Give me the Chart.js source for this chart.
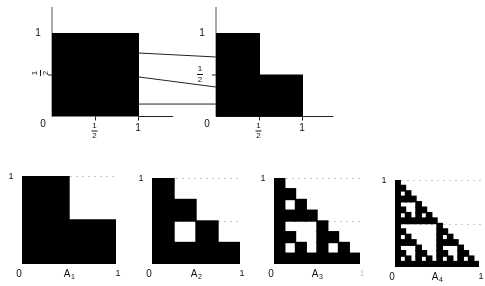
<!DOCTYPE html>
<html>
<head>
<meta charset="utf-8">
<script src="https://cdn.jsdelivr.net/npm/chart.js@4.4.1/dist/chart.umd.min.js"></script>
<style>
    html, body { margin: 0; padding: 0; background: #fff; }
    #wrap { position: relative; width: 485px; height: 286px; }
    #wrap canvas { position: absolute; left: 0; top: 0; }
</style>
</head>
<body>
<div id="wrap">
    <canvas id="topChart" width="485" height="286"></canvas>
    <canvas id="setA1" width="485" height="286"></canvas>
    <canvas id="setA2" width="485" height="286"></canvas>
    <canvas id="setA3" width="485" height="286"></canvas>
    <canvas id="setA4" width="485" height="286"></canvas>
</div>
<script>
// Top row: unit square (left) and its image A1 (right)
const squareX = [0, 1];
const squareY = [1, 1];
const lShapeX = [0, 0.5, 0.5, 1];
const lShapeY = [1, 1, 0.5, 0.5];
// connecting segments: height on the square -> height on the L
const linkFromY = [0.765, 0.476, 0.15];
const linkToY = [0.717, 0.355, 0.15];
const stubEndX = 1.39;      // short x-axis piece right of the square
const axisTopY = 1.32;      // how far the y axes run up
const axisRightX = 1.35;    // how far the right x axis runs

// Bottom row: the sets A1..A4, rows listed top to bottom, 1 = black cell
const setNames = ['A', 'A', 'A', 'A'];
const setSubs = ['1', '2', '3', '4'];
const rowsA1 = ['10', '11'];
const rowsA2 = ['1000', '1100', '1010', '1111'];
const rowsA3 = [
    '10000000', '11000000', '10100000', '11110000',
    '10001000', '11001100', '10101010', '11111111'
];
const rowsA4 = [
    '1000000000000000', '1100000000000000', '1010000000000000', '1111000000000000',
    '1000100000000000', '1100110000000000', '1010101000000000', '1111111100000000',
    '1000000010000000', '1100000011000000', '1010000010100000', '1111000011110000',
    '1000100010001000', '1100110011001100', '1010101010101010', '1111111111111111'
];

// layout (pixels)
const W = 485, H = 286;
const TOP = { x0: 52, y0: 116.5, ux: 87, uy: 83 };
const RIGHT_OFF = (216 - 52) / 87;
const BOXES = [[22, 176, 116, 264], [152, 178, 240, 264], [274, 178, 360, 264], [395, 180, 479, 267]];
const FONT = '"Liberation Sans", Arial, sans-serif';
const INK = '#111';

document.addEventListener('DOMContentLoaded', function () {
    Chart.defaults.animation = false;

    function pts(xs, ys, dx) {
        return xs.map((x, i) => ({ x: x + (dx || 0), y: ys[i] }));
    }
    function lineSet(data, extra) {
        return Object.assign({ data: data, showLine: true, pointRadius: 0, borderColor: '#222',
            borderWidth: 1, fill: false }, extra || {});
    }

    function text(ctx, s, x, y, size, color) {
        ctx.font = (size || 10) + 'px ' + FONT;
        ctx.fillStyle = color || INK;
        ctx.textAlign = 'center';
        ctx.textBaseline = 'middle';
        ctx.fillText(s, x, y);
    }
    function frac(ctx, x, y, rotate) {
        ctx.save();
        ctx.translate(x, y);
        if (rotate) ctx.rotate(-Math.PI / 2);
        text(ctx, '1', 0, -5, 8);
        text(ctx, '2', 0, 5.5, 8);
        ctx.strokeStyle = INK;
        ctx.lineWidth = 1;
        ctx.beginPath();
        ctx.moveTo(-3, 0.5); ctx.lineTo(3, 0.5);
        ctx.stroke();
        ctx.restore();
    }
    function tick(ctx, x1, y1, x2, y2) {
        ctx.strokeStyle = '#222';
        ctx.lineWidth = 1;
        ctx.beginPath();
        ctx.moveTo(x1, y1); ctx.lineTo(x2, y2);
        ctx.stroke();
    }

    // top chart
    const topLabels = {
        id: 'topLabels',
        afterDatasetsDraw(chart) {
            const ctx = chart.ctx, sx = chart.scales.x, sy = chart.scales.y;
            const px = v => sx.getPixelForValue(v), py = v => sy.getPixelForValue(v);
            [0, RIGHT_OFF].forEach((off, k) => {
                tick(ctx, px(off + 0.5), py(0), px(off + 0.5), py(0) + 4);
                tick(ctx, px(off + 1) - 0.5, py(0), px(off + 1) - 0.5, py(0) + 4);
                tick(ctx, px(off) - 4, py(0.5), px(off), py(0.5));
                text(ctx, '1', px(off) - 14, py(1));
                text(ctx, '0', px(off) - 9, py(0) + 8);
                text(ctx, '1', px(off + 1) - 1, py(0) + 12);
                frac(ctx, px(off + 0.5) - 1, py(0) + 14);
                if (k === 0) frac(ctx, px(off) - 12, py(0.5) - 2, true);
                else frac(ctx, px(off) - 16, py(0.5) - 1);
            });
        }
    };

    const topDatasets = [
        lineSet(pts(squareX, squareY), { fill: 'origin', backgroundColor: '#000', borderColor: '#000' }),
        lineSet(pts(lShapeX, lShapeY, RIGHT_OFF), { fill: 'origin', backgroundColor: '#000', borderColor: '#000' }),
        lineSet([{ x: 0, y: 0 }, { x: 0, y: axisTopY }], { borderColor: '#555' }),
        lineSet([{ x: RIGHT_OFF, y: 0 }, { x: RIGHT_OFF, y: axisTopY }], { borderColor: '#555' }),
        lineSet([{ x: RIGHT_OFF, y: 0 }, { x: RIGHT_OFF + axisRightX, y: 0 }]),
        lineSet([{ x: 1, y: 0 }, { x: stubEndX, y: 0 }])
    ];
    linkFromY.forEach((y, i) => {
        topDatasets.push(lineSet([{ x: 1, y: y }, { x: RIGHT_OFF, y: linkToY[i] }]));
    });

    new Chart(document.getElementById('topChart'), {
        type: 'scatter',
        data: { datasets: topDatasets },
        options: {
            responsive: false,
            layout: { padding: 0 },
            plugins: { legend: { display: false }, tooltip: { enabled: false } },
            scales: {
                x: { type: 'linear', display: false, min: -TOP.x0 / TOP.ux, max: (W - TOP.x0) / TOP.ux },
                y: { type: 'linear', display: false, min: -(H - TOP.y0) / TOP.uy, max: TOP.y0 / TOP.uy }
            }
        },
        plugins: [topLabels]
    });

    // bottom row
    function makeSet(id, rows, idx) {
        const n = rows.length;
        const box = BOXES[idx];
        const datasets = rows.map((row, r) => {
            const j = n - 1 - r;
            return {
                data: row.split('').map(c => c === '1' ? [j / n, (j + 1) / n] : null),
                backgroundColor: '#000', borderWidth: 0, grouped: false,
                barPercentage: 1, categoryPercentage: 1, inflateAmount: 0.7
            };
        });
        const setLabels = {
            id: 'setLabels' + idx,
            beforeDatasetsDraw(chart) {
                const ctx = chart.ctx, a = chart.chartArea, sy = chart.scales.y;
                ctx.save();
                ctx.strokeStyle = '#c8c8c8';
                ctx.lineWidth = 1;
                ctx.setLineDash([2, 4]);
                [1, 0.5].forEach(v => {
                    const y = Math.round(sy.getPixelForValue(v)) + 0.5;
                    ctx.beginPath(); ctx.moveTo(a.left, y); ctx.lineTo(a.right + 2, y); ctx.stroke();
                });
                ctx.restore();
            },
            afterDatasetsDraw(chart) {
                const ctx = chart.ctx, a = chart.chartArea;
                text(ctx, '1', a.left - 11, a.top + 1, 9);
                text(ctx, '0', a.left - 3, a.bottom + 10);
                text(ctx, '1', a.right + 2, a.bottom + 10, 9, idx === 2 ? '#ccc' : INK);
                const mx = a.left + (a.right - a.left) * 0.5;
                text(ctx, setNames[idx], mx - 2, a.bottom + 10);
                text(ctx, setSubs[idx], mx + 4, a.bottom + 13, 7);
            }
        };
        new Chart(document.getElementById(id), {
            type: 'bar',
            data: { labels: rows[0].split('').map((c, i) => String(i)), datasets: datasets },
            options: {
                responsive: false,
                layout: { padding: { left: box[0], top: box[1], right: W - box[2], bottom: H - box[3] } },
                plugins: { legend: { display: false }, tooltip: { enabled: false } },
                scales: {
                    x: { type: 'category', display: false, offset: true },
                    y: { type: 'linear', display: false, min: 0, max: 1 }
                }
            },
            plugins: [setLabels]
        });
    }

    makeSet('setA1', rowsA1, 0);
    makeSet('setA2', rowsA2, 1);
    makeSet('setA3', rowsA3, 2);
    makeSet('setA4', rowsA4, 3);
});
</script>
</body>
</html>
